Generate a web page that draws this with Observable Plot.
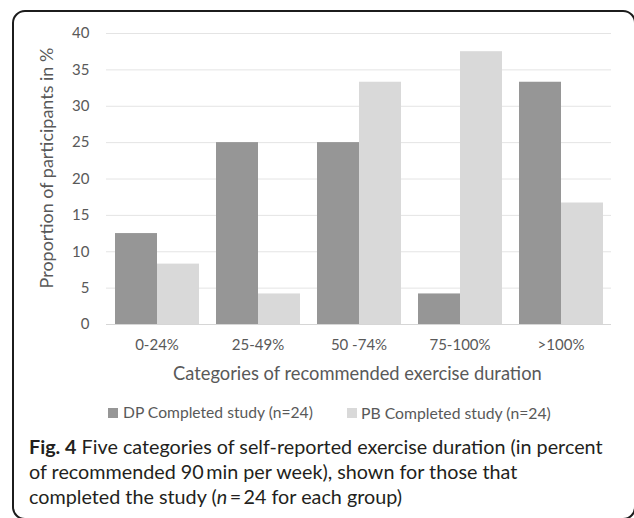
<!DOCTYPE html>
<html>
<head>
<meta charset="utf-8">
<script src="https://cdn.jsdelivr.net/npm/d3@7"></script>
<script src="https://cdn.jsdelivr.net/npm/@observablehq/plot@0.6"></script>
<style>
  html, body { margin: 0; padding: 0; background: #fff; }
  #wrap { position: relative; width: 634px; height: 518px; overflow: hidden; font-family: Lato, "Open Sans", sans-serif; }
  #chart { position: absolute; left: 0; top: 0; }
  #frame { position: absolute; left: 12px; top: 10px; width: 624px; height: 510px; box-sizing: border-box;
           border: 2px solid #1c1c1c; border-radius: 13px; pointer-events: none; }
  .t { position: absolute; white-space: nowrap; color: #595959; line-height: 1; }
  .sw { position: absolute; width: 10px; height: 10px; }
  #caption { position: absolute; left: 29px; top: 434px; color: #231f20; line-height: 25px; white-space: nowrap; }
</style>
</head>
<body>
<div id="wrap">
  <div id="chart"></div>
  <div id="ytitle" class="t">Proportion of participants in %</div>
  <div id="xtitle" class="t">Categories of recommended exercise duration</div>
  <div id="sw0" class="sw"></div><div id="lg0" class="t"></div>
  <div id="sw1" class="sw"></div><div id="lg1" class="t"></div>
  <div id="caption">
    <div id="cap1"><b>Fig. 4</b> Five categories of self-reported exercise duration (in percent</div>
    <div id="cap2">of recommended 90&#8201;min per week), shown for those that</div>
    <div id="cap3">completed the study (<i>n</i>&#8201;=&#8201;24 for each group)</div>
  </div>
  <div id="frame"></div>
</div>
<script>
// ---- data ----
const categories = ["0-24%", "25-49%", "50 -74%", "75-100%", ">100%"];
const seriesKeys = ["DP", "PB"];
const seriesNames = ["DP Completed study (n=24)", "PB Completed study (n=24)"];
const dpValues = [12.5, 25, 25, 4.2, 33.3];
const pbValues = [8.3, 4.2, 33.3, 37.5, 16.7];
const yTicks = [0, 5, 10, 15, 20, 25, 30, 35, 40];
const seriesColors = ["#969696", "#d9d9d9"];

const data = categories.flatMap((c, i) => [
  {cat: c, group: seriesKeys[0], value: dpValues[i]},
  {cat: c, group: seriesKeys[1], value: pbValues[i]}
]);

const chart = Plot.plot({
  width: 634,
  height: 360,
  marginLeft: 106,
  marginRight: 23,
  marginTop: 33,
  marginBottom: 36,
  style: {fontFamily: "Lato, sans-serif", fontSize: "15px", color: "#595959", background: "transparent"},
  facet: {data, x: "cat", label: null},
  fx: {domain: categories, padding: 0, axis: "bottom", tickSize: 0, tickPadding: 15, label: null},
  x: {domain: seriesKeys, paddingInner: 0, paddingOuter: 0.2, axis: null},
  y: {domain: [0, 40], ticks: yTicks, tickSize: 0, tickPadding: 17, label: null},
  color: {domain: seriesKeys, range: seriesColors},
  marks: [
    Plot.ruleY(yTicks, {stroke: "#e4e4e4"}),
    Plot.barY(data, {x: "group", y: "value", fill: "group"}),
    Plot.ruleY([0], {stroke: "#d6d6d6"})
  ]
});
document.getElementById("chart").appendChild(chart);

// ---- text layout helpers ----
function fit(el, targetWidth) {
  el.style.fontSize = "100px";
  const w = el.getBoundingClientRect().width;
  el.style.fontSize = (100 * targetWidth / w) + "px";
}
function centerAt(el, cx, cy) {
  const w = el.offsetWidth, h = el.offsetHeight;
  el.style.left = (cx - w / 2) + "px";
  el.style.top = (cy - h / 2) + "px";
}

const xt = document.getElementById("xtitle");
fit(xt, 369); centerAt(xt, 357.5, 373);

const yt = document.getElementById("ytitle");
fit(yt, 241); centerAt(yt, 46, 167.5);
yt.style.transform = "rotate(-90deg)";

const legendX = [[108, 123], [347, 361]];
seriesNames.forEach((name, i) => {
  const sw = document.getElementById("sw" + i);
  sw.style.background = seriesColors[i];
  sw.style.left = legendX[i][0] + "px";
  sw.style.top = "408px";
  const lg = document.getElementById("lg" + i);
  lg.textContent = name;
  fit(lg, 190);
  const h = lg.offsetHeight;
  lg.style.left = legendX[i][1] + "px";
  lg.style.top = (413 - h / 2) + "px";
});

const cap = document.getElementById("caption");
const c1 = document.getElementById("cap1");
c1.style.display = "inline-block";
fit(c1, 574);
const fs = c1.style.fontSize;
c1.style.display = "block";
cap.style.fontSize = fs;
c1.style.fontSize = "";
</script>
</body>
</html>
